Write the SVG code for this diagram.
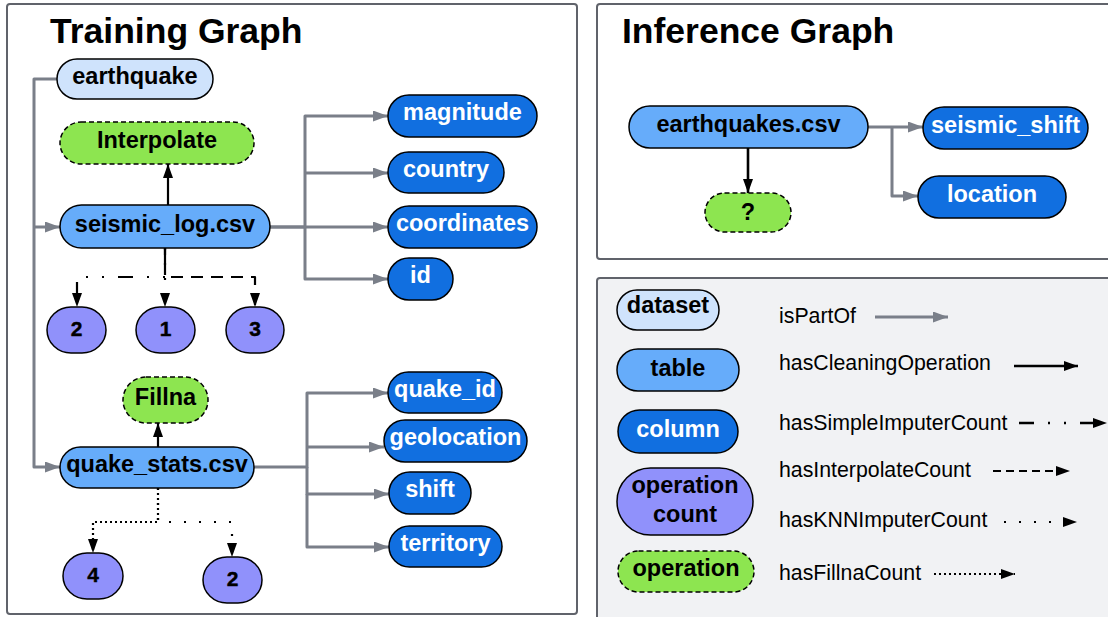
<svg xmlns="http://www.w3.org/2000/svg" width="1108" height="617" viewBox="0 0 1108 617">
<style>
.panel{fill:#ffffff;stroke:#60636b;stroke-width:2}
.legbg{fill:#f1f2f4;stroke:#60636b;stroke-width:2}
.title{font-family:"Liberation Sans",Arial,sans-serif;font-weight:bold;font-size:35.5px;fill:#000}
.nl{font-family:"Liberation Sans",Arial,sans-serif;font-weight:bold;font-size:23.5px;text-anchor:middle;fill:#000}
.wl{fill:#ffffff}
.dig{font-family:"Liberation Sans",Arial,sans-serif;font-weight:bold;font-size:21px;text-anchor:middle;fill:#000;stroke:#000;stroke-width:0.4}
.leg{font-family:"Liberation Sans",Arial,sans-serif;font-size:21.3px;fill:#000}
.dataset{fill:#cfe3fc;stroke:#000;stroke-width:1.5}
.table{fill:#66acfa;stroke:#000;stroke-width:1.5}
.column{fill:#116fe0;stroke:#000;stroke-width:1.5}
.opc{fill:#9091fb;stroke:#000;stroke-width:1.5}
.op{fill:#8de550;stroke:#000;stroke-width:1.5;stroke-dasharray:5 3}
.g{fill:none;stroke:#7a7f89;stroke-width:3;stroke-linejoin:round}
.b{fill:none;stroke:#000;stroke-width:2.2;stroke-linejoin:round}
.dd{stroke-dasharray:15 14 2 14 2 14}
.da{stroke-dasharray:12 8;stroke-dashoffset:5}
.dal{stroke-dasharray:8 5}
.kn{stroke-dasharray:2 13}
.fl{stroke-dasharray:2 3}
</style>
<defs>
<marker id="ag" markerWidth="15" markerHeight="11" refX="15" refY="5.5" orient="auto" markerUnits="userSpaceOnUse"><path d="M0,0 L15,5.5 L0,11 z" fill="#7a7f89"/></marker>
<marker id="ab" markerWidth="14" markerHeight="10" refX="14" refY="5" orient="auto" markerUnits="userSpaceOnUse"><path d="M0,0 L14,5 L0,10 z" fill="#000"/></marker>
</defs>

<!-- panels -->
<rect class="panel" x="7" y="4" width="570" height="610" rx="3"/>
<rect class="panel" x="597" y="4" width="530" height="255" rx="3"/>
<rect class="legbg" x="597" y="278" width="530" height="360" rx="3"/>
<text class="title" x="50" y="43">Training Graph</text>
<text class="title" x="622" y="43">Inference Graph</text>

<!-- connectors -->
<g id="connectors">
  <path class="g" d="M57,79 H34 V467 H60" marker-end="url(#ag)"/>
  <path class="g" d="M34,227 H60" marker-end="url(#ag)"/>
  <path class="g" d="M270,227 H388" marker-end="url(#ag)"/>
  <path class="g" d="M270,227 H305 V116 H388" marker-end="url(#ag)"/>
  <path class="g" d="M305,173 H388" marker-end="url(#ag)"/>
  <path class="g" d="M305,227 V279 H388" marker-end="url(#ag)"/>
  <path class="g" d="M254,467 H307 V393 H388" marker-end="url(#ag)"/>
  <path class="g" d="M307,447 H384" marker-end="url(#ag)"/>
  <path class="g" d="M307,467 V494 H389" marker-end="url(#ag)"/>
  <path class="g" d="M307,494 V547 H389" marker-end="url(#ag)"/>
  <path class="b" d="M168,205 V164" marker-end="url(#ab)"/>
  <path class="b dd" d="M165,248 V277 H77 V307" marker-end="url(#ab)"/>
  <path class="b kn" d="M165,248 V307" marker-end="url(#ab)"/>
  <path class="b da" d="M165,248 V277 H255 V307" marker-end="url(#ab)"/>
  <path class="b" d="M158,447 V423" marker-end="url(#ab)"/>
  <path class="b fl" d="M158,488 V522 H93 V553" marker-end="url(#ab)"/>
  <path class="b kn" d="M158,488 V522 H232 V557" marker-end="url(#ab)"/>
  <path class="g" d="M868,127 H923" marker-end="url(#ag)"/>
  <path class="g" d="M892,127 V196 H918" marker-end="url(#ag)"/>
  <path class="b" d="M748,148 V193" marker-end="url(#ab)" style="stroke-width:2.6"/>
</g>

<!-- training nodes -->
<g id="earthquake"><rect class="dataset" x="57" y="59" width="156" height="40" rx="20"/><text class="nl" x="135" y="84">earthquake</text></g>
<g id="interpolate"><rect class="op" x="60" y="122" width="194" height="42" rx="21"/><text class="nl" x="157" y="148">Interpolate</text></g>
<g id="seismic_log"><rect class="table" x="60" y="205" width="210" height="43" rx="21.5"/><text class="nl" x="165" y="232">seismic_log.csv</text></g>
<g id="sl_count2"><rect class="opc" x="47" y="307" width="59" height="46" rx="24" ry="23"/><text class="dig" x="76.5" y="336">2</text></g>
<g id="sl_count1"><rect class="opc" x="136" y="307" width="59" height="46" rx="24" ry="23"/><text class="dig" x="165.5" y="336">1</text></g>
<g id="sl_count3"><rect class="opc" x="226" y="307" width="58" height="46" rx="24" ry="23"/><text class="dig" x="255" y="336">3</text></g>
<g id="fillna"><rect class="op" x="123" y="377" width="85" height="46" rx="23"/><text class="nl" x="165.5" y="405">Fillna</text></g>
<g id="quake_stats"><rect class="table" x="60" y="447" width="194" height="41" rx="20.5"/><text class="nl" x="157" y="472">quake_stats.csv</text></g>
<g id="qs_count4"><rect class="opc" x="63" y="553" width="60" height="46" rx="24" ry="23"/><text class="dig" x="93" y="582">4</text></g>
<g id="qs_count2"><rect class="opc" x="203" y="557" width="59" height="46" rx="24" ry="23"/><text class="dig" x="232.5" y="586">2</text></g>

<g id="magnitude"><rect class="column" x="388" y="95" width="149" height="42" rx="21"/><text class="nl wl" x="462.5" y="120">magnitude</text></g>
<g id="country"><rect class="column" x="388" y="152" width="116" height="41" rx="20.5"/><text class="nl wl" x="446" y="177">country</text></g>
<g id="coordinates"><rect class="column" x="388" y="206" width="149" height="42" rx="21"/><text class="nl wl" x="462.5" y="231">coordinates</text></g>
<g id="id"><rect class="column" x="388" y="258" width="65" height="42" rx="21"/><text class="nl wl" x="420.5" y="283">id</text></g>
<g id="quake_id"><rect class="column" x="388" y="372" width="114" height="41" rx="20.5"/><text class="nl wl" x="445" y="397">quake_id</text></g>
<g id="geolocation"><rect class="column" x="384" y="420" width="143" height="42" rx="21"/><text class="nl wl" x="455.5" y="445">geolocation</text></g>
<g id="shift"><rect class="column" x="389" y="472" width="82" height="42" rx="21"/><text class="nl wl" x="430" y="497">shift</text></g>
<g id="territory"><rect class="column" x="389" y="526" width="113" height="41" rx="20.5"/><text class="nl wl" x="445.5" y="551">territory</text></g>

<!-- inference nodes -->
<g id="earthquakes_csv"><rect class="table" x="629" y="106" width="239" height="42" rx="21"/><text class="nl" x="748.5" y="132">earthquakes.csv</text></g>
<g id="unknown_op"><rect class="op" x="705" y="193" width="86" height="39" rx="19.5"/><text class="nl" x="748" y="220">?</text></g>
<g id="seismic_shift"><rect class="column" x="923" y="107" width="165" height="42" rx="21"/><text class="nl wl" x="1005.5" y="133">seismic_shift</text></g>
<g id="location"><rect class="column" x="918" y="176" width="148" height="42" rx="21"/><text class="nl wl" x="992" y="202">location</text></g>

<!-- legend -->
<g id="legend">
  <g id="leg_dataset"><rect class="dataset" x="617" y="290" width="102" height="40" rx="20"/><text class="nl" x="668" y="313">dataset</text></g>
  <g id="leg_table"><rect class="table" x="617" y="349" width="122" height="42" rx="21"/><text class="nl" x="678" y="376">table</text></g>
  <g id="leg_column"><rect class="column" x="618" y="410" width="120" height="43" rx="21.5"/><text class="nl wl" x="678" y="437">column</text></g>
  <g id="leg_opcount"><rect class="opc" x="617" y="468" width="136" height="67" rx="33.5"/><text class="nl" x="685" y="493">operation</text><text class="nl" x="685" y="522">count</text></g>
  <g id="leg_op"><rect class="op" x="618" y="551" width="136" height="41" rx="20.5"/><text class="nl" x="686" y="576">operation</text></g>
  <text class="leg" x="779" y="323">isPartOf</text>
  <text class="leg" x="779" y="370">hasCleaningOperation</text>
  <text class="leg" x="779" y="430">hasSimpleImputerCount</text>
  <text class="leg" x="779" y="477">hasInterpolateCount</text>
  <text class="leg" x="779" y="527">hasKNNImputerCount</text>
  <text class="leg" x="779" y="580">hasFillnaCount</text>
  <path class="g" d="M875,317 H948" marker-end="url(#ag)"/>
  <path class="b" d="M1014,366 H1078" marker-end="url(#ab)" style="stroke-width:2.6"/>
  <path class="b dd" d="M1019,423 H1107" marker-end="url(#ab)" style="stroke-width:2.6"/>
  <path class="b dal" d="M993,471 H1070" marker-end="url(#ab)"/>
  <path class="b kn" d="M1004,522 H1077" marker-end="url(#ab)"/>
  <path class="b fl" d="M934,574 H1015" marker-end="url(#ab)"/>
</g>
</svg>
